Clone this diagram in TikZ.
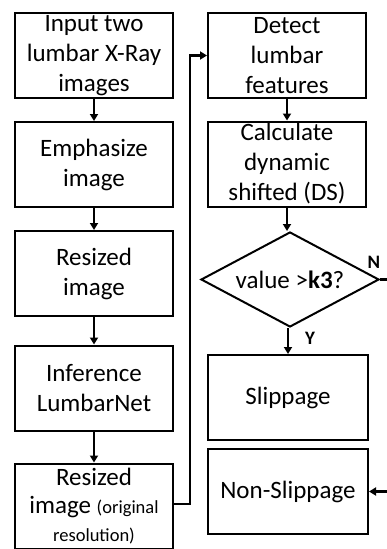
\documentclass[tikz,border=0pt]{standalone}
\usepackage{fontspec}
\setmainfont{Carlito}
\usetikzlibrary{arrows.meta,shapes.geometric}

\tikzset{
  box/.style={draw, line width=2pt, minimum width=158pt, minimum height=85pt,
    inner sep=0pt, align=center, font=\fontsize{25}{30}\selectfont},
  decision/.style={draw, diamond, line width=2pt, aspect=1.85, inner sep=0pt,
    minimum width=178pt, minimum height=95pt, font=\fontsize{25}{30}\selectfont},
  flow/.style={line width=2.6pt, -{Triangle[length=7pt,width=8pt]}},
  yn/.style={font=\bfseries\fontsize{19}{22}\selectfont}
}
\newcommand{\smalltxt}{\fontsize{18.5}{21}\selectfont}

\begin{document}
\begin{tikzpicture}[x=1pt,y=-1pt]
    \useasboundingbox (0,0) rectangle (386,549);

    % left column
    \node[box] (input)  at (94,55.5)  {Input two\\lumbar X-Ray\\images};
    \node[box] (emph)   at (94,164.5) {Emphasize\\image};
    \node[box] (resize) at (94,273.5) {Resized\\image};
    \node[box] (infer)  at (94,388)   {Inference\\LumbarNet};
    \node[box, font=\fontsize{25}{28}\selectfont] (orig) at (94,506)
      {Resized\\image {\smalltxt (original}\\{\smalltxt resolution)}};

    % right column
    \node[box] (detect) at (287,55.5) {Detect\\lumbar\\features};
    \node[box] (calc)   at (287,164)  {Calculate\\dynamic\\shifted (DS)};
    \node[decision] (check) at (290,279.5) {value >\textbf{k3}?};
    \node[box, minimum width=160pt] (slip)    at (288,397.5) {Slippage};
    \node[box, minimum width=160pt] (nonslip) at (288,491.5) {Non-Slippage};

    % connectors
    \draw[flow] (input) -- (emph);
    \draw[flow] (emph) -- (resize);
    \draw[flow] (resize) -- (infer);
    \draw[flow] (infer) -- (orig);
    \coordinate (loop) at (190,504);
    \draw[flow] (orig.east |- loop) -- (loop) |- (detect.west);
    \draw[flow] (detect) -- (calc);
    \draw[flow] (calc.south) -- (calc.south |- check.north);
    \draw[flow] (check.south -| slip.north) -- (slip.north);
    \coordinate (nturn) at (391,279.5);
    \draw[flow] (check.east) -- (nturn) |- (nonslip.east);

    % labels
    \node[yn] (ylab) at (310,338) {Y};
    \node[yn] (nlab) at (374,262) {N};
\end{tikzpicture}
\end{document}
